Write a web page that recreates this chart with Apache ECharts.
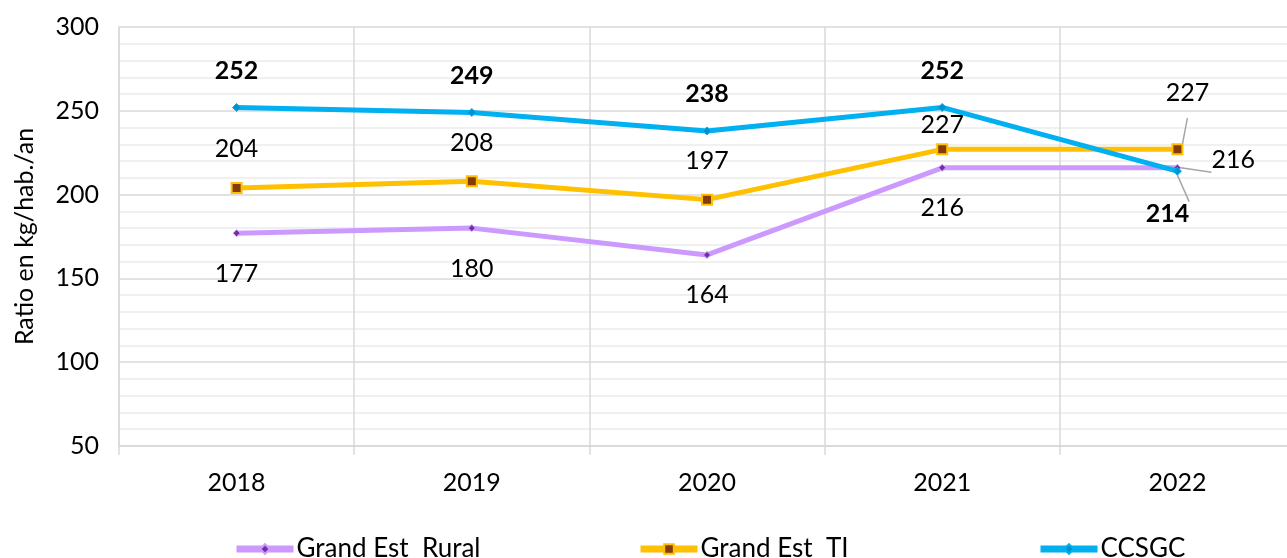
<!DOCTYPE html>
<html>
<head>
<meta charset="utf-8">
<script src="https://cdn.jsdelivr.net/npm/echarts@6/dist/echarts.min.js"></script>
<style>
  html, body { margin: 0; padding: 0; background: #fff; overflow: hidden; }
  /* plot area runs slightly past the right edge of the window, as in the source */
  #chart { width: 1300px; height: 558px; }
</style>
</head>
<body>
<div id="chart"></div>
<script>
const years = ['2018', '2019', '2020', '2021', '2022'];
const rural = [177, 180, 164, 216, 216];
const ti = [204, 208, 197, 227, 227];
const ccsgc = [252, 249, 238, 252, 214];
const yTicks = [50, 300, 50]; // min, max, interval

const FONT = 'Lato';
const chart = echarts.init(document.getElementById('chart'));

const labelFor = (pos, dist, bold) => ({
  show: true, position: pos, distance: dist,
  fontFamily: FONT, fontSize: 25, color: '#000',
  fontWeight: bold ? 'bold' : 'normal'
});
const leader = { show: true, lineStyle: { color: '#a6a6a6', width: 1.5 } };

// last point of each series has its label pushed aside with a leader line
const ruralData = rural.map((v, i) => i === 4
  ? { value: v, label: Object.assign(labelFor('right', 30, false), { offset: [0, -8] }), labelLine: leader }
  : { value: v, label: labelFor('bottom', 24, false) });

const tiData = ti.map((v, i) => i === 4
  ? { value: v, label: Object.assign(labelFor('top', 38, false), { offset: [10, 0] }), labelLine: leader }
  : { value: v, label: labelFor('top', i === 3 ? 6 : 20, false) });

const ccData = ccsgc.map((v, i) => i === 4
  ? { value: v, label: Object.assign(labelFor('bottom', 26, true), { offset: [-10, 0] }), labelLine: leader }
  : { value: v, label: labelFor('top', 20, true) });

const option = {
  backgroundColor: '#fff',
  animation: false,
  textStyle: { fontFamily: FONT },
  grid: { left: 119, top: 27, height: 419, width: 1176 },
  legend: [
    { data: ['Grand Est  Rural'], left: 233, top: 536 },
    { data: ['Grand Est  TI'], left: 637, top: 536 },
    { data: ['CCSGC'], left: 1037, top: 536 }
  ].map(l => Object.assign(l, {
    padding: 0,
    itemWidth: 57, itemHeight: 12, itemGap: 4,
    lineStyle: { width: 7 },
    textStyle: { fontFamily: FONT, fontSize: 26, color: '#000', padding: [0, 0, 0, -2] }
  })),
  xAxis: {
    type: 'category',
    data: years,
    boundaryGap: true,
    axisLine: { lineStyle: { color: '#d9d9d9', width: 1.5 } },
    axisTick: { show: true, length: 9, lineStyle: { color: '#d9d9d9', width: 1.5 } },
    axisLabel: { fontFamily: FONT, fontSize: 25, color: '#000', margin: 24 },
    splitLine: { show: true, lineStyle: { color: '#d9d9d9', width: 1.5 } }
  },
  yAxis: {
    type: 'value',
    min: yTicks[0], max: yTicks[1], interval: yTicks[2],
    name: 'Ratio en kg/hab./an',
    nameLocation: 'middle',
    nameGap: 82,
    nameTextStyle: { fontFamily: FONT, fontSize: 25, color: '#000' },
    axisLine: { show: true, lineStyle: { color: '#d9d9d9', width: 1.5 } },
    axisTick: { show: false },
    axisLabel: { fontFamily: FONT, fontSize: 25, color: '#000', margin: 20 },
    splitLine: { lineStyle: { color: '#d9d9d9', width: 1.5 } },
    minorTick: { show: false, splitNumber: 5 },
    minorSplitLine: { show: true, lineStyle: { color: '#ececec', width: 1.5 } }
  },
  series: [
    {
      name: 'Grand Est  Rural', type: 'line', data: ruralData,
      symbol: 'diamond', symbolSize: 7,
      lineStyle: { color: '#CC99FF', width: 5 },
      itemStyle: { color: '#7030A0', borderColor: '#CC99FF', borderWidth: 1 },
      z: 2
    },
    {
      name: 'Grand Est  TI', type: 'line', data: tiData,
      symbol: 'rect', symbolSize: 10,
      lineStyle: { color: '#FFC000', width: 5 },
      itemStyle: { color: '#843C0C', borderColor: '#FFC000', borderWidth: 2 },
      z: 3
    },
    {
      name: 'CCSGC', type: 'line', data: ccData,
      symbol: 'diamond', symbolSize: 8,
      lineStyle: { color: '#00B0F0', width: 5 },
      itemStyle: { color: '#0090D0', borderColor: '#00B0F0', borderWidth: 1 },
      z: 4
    }
  ]
};

chart.setOption(option);
</script>
</body>
</html>
